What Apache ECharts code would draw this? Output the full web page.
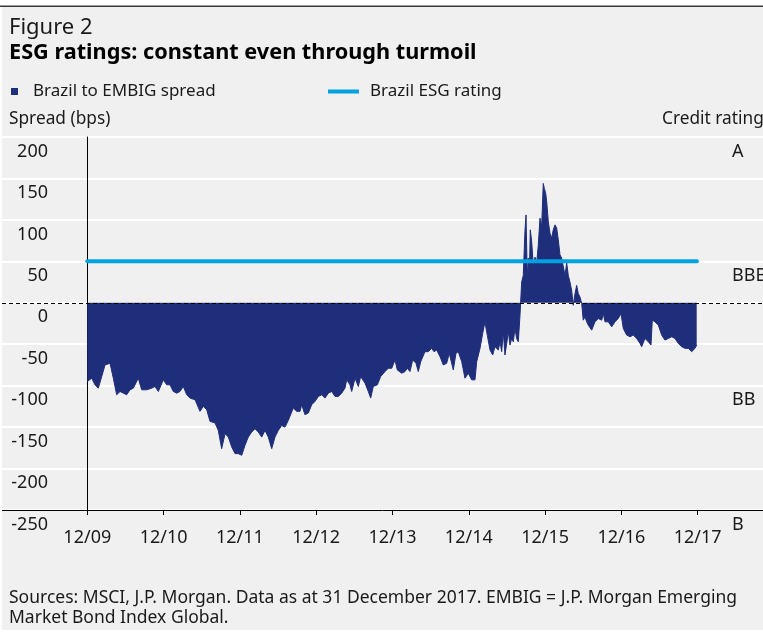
<!DOCTYPE html>
<html>
<head>
<meta charset="utf-8">
<script src="https://cdn.jsdelivr.net/npm/echarts@6/dist/echarts.min.js"></script>
<style>
  html, body { margin: 0; padding: 0; background: #ffffff; }
  #chart { width: 763px; height: 635px; }
</style>
</head>
<body>
<div id="chart"></div>
<script>
// ---- Data ----
// x position: years elapsed since the "12/09" tick (Dec 2009)
const yearsSinceDec09 = [
  0.000, 0.013, 0.058, 0.101, 0.144, 0.189, 0.232, 0.298, 0.341, 0.385, 0.429, 0.472, 0.516, 0.560, 0.603,
  0.668, 0.713, 0.778, 0.844, 0.887, 0.931, 0.996, 1.041, 1.084, 1.127, 1.172, 1.215, 1.258, 1.303, 1.346,
  1.412, 1.477, 1.520, 1.565, 1.608, 1.674, 1.717, 1.761, 1.805, 1.848, 1.893, 1.936, 1.979, 2.024, 2.067,
  2.110, 2.155, 2.198, 2.241, 2.286, 2.329, 2.372, 2.417, 2.460, 2.503, 2.548, 2.591, 2.634, 2.656, 2.700,
  2.744, 2.788, 2.810, 2.853, 2.897, 2.941, 2.984, 3.028, 3.072, 3.115, 3.159, 3.203, 3.247, 3.290, 3.334,
  3.377, 3.400, 3.443, 3.465, 3.509, 3.552, 3.583, 3.640, 3.683, 3.714, 3.748, 3.801, 3.845, 3.902, 3.945,
  3.990, 4.033, 4.063, 4.121, 4.164, 4.194, 4.229, 4.265, 4.308, 4.338, 4.370, 4.426, 4.469, 4.514, 4.544,
  4.579, 4.623, 4.666, 4.710, 4.744, 4.797, 4.832, 4.862, 4.907, 4.950, 4.993, 5.038, 5.081, 5.104, 5.147,
  5.182, 5.212, 5.242, 5.278, 5.313, 5.343, 5.366, 5.387, 5.409, 5.431, 5.452, 5.474, 5.497, 5.518, 5.540,
  5.562, 5.583, 5.605, 5.627, 5.649, 5.671, 5.693, 5.714, 5.736, 5.750, 5.767, 5.780, 5.793, 5.806, 5.824,
  5.845, 5.868, 5.890, 5.911, 5.933, 5.955, 5.976, 5.990, 6.008, 6.021, 6.042, 6.064, 6.086, 6.107, 6.130,
  6.152, 6.173, 6.195, 6.217, 6.238, 6.261, 6.283, 6.304, 6.326, 6.348, 6.369, 6.392, 6.414, 6.435, 6.457,
  6.480, 6.500, 6.523, 6.545, 6.566, 6.611, 6.632, 6.654, 6.697, 6.742, 6.763, 6.785, 6.828, 6.873, 6.916,
  6.959, 6.995, 7.025, 7.069, 7.113, 7.156, 7.200, 7.244, 7.266, 7.309, 7.353, 7.388, 7.405, 7.440, 7.484,
  7.528, 7.571, 7.615, 7.661, 7.702, 7.746, 7.790, 7.834, 7.877, 7.921, 7.943, 7.965, 7.987
];
// Brazil to EMBIG spread (bps)
const spreadBps = [
  -95, -93, -91, -99, -103, -89, -75, -73, -91, -111, -107, -109, -111, -105, -103,
  -91, -105, -105, -103, -101, -107, -93, -99, -99, -107, -109, -107, -101, -111, -115,
  -117, -131, -125, -129, -143, -145, -154, -176, -158, -162, -174, -182, -182, -184, -172,
  -162, -156, -152, -156, -162, -154, -162, -176, -162, -154, -148, -150, -142, -137, -127,
  -131, -131, -123, -135, -133, -123, -119, -113, -111, -115, -109, -107, -113, -113, -109,
  -103, -93, -99, -107, -91, -101, -89, -97, -107, -115, -101, -99, -89, -83, -79,
  -79, -69, -81, -85, -83, -79, -83, -69, -73, -83, -71, -59, -59, -55, -59,
  -57, -65, -75, -73, -61, -81, -61, -59, -71, -91, -85, -93, -93, -71, -55,
  -37, -23, -39, -57, -63, -53, -51, -57, -47, -59, -35, -63, -49, -35, -51,
  -43, -47, -31, -43, -47, -15, 25, 33, 86, 106, 29, 54, 33, 88, 74,
  45, 55, 48, 70, 102, 92, 144, 138, 132, 122, 98, 84, 78, 88, 94,
  90, 76, 58, 54, 52, 33, 48, 33, 25, 15, -3, 11, 21, 11, 7,
  -1, -21, -17, -23, -27, -33, -35, -23, -19, -21, -13, -23, -23, -29, -23,
  -19, -13, -31, -39, -41, -39, -43, -49, -53, -43, -47, -51, -21, -23, -27,
  -39, -45, -43, -41, -43, -49, -53, -55, -55, -59, -61, -55, -51
];
// Brazil ESG rating (constant, plotted on the spread scale)
const esgYears = [0, 7.99];
const esgRating = [50, 50];

// Axis tick labels
const xTickValues = [0, 1, 2, 3, 4, 5, 6, 7, 8];
const xTickLabels = ['12/09', '12/10', '12/11', '12/12', '12/13', '12/14', '12/15', '12/16', '12/17'];
const ratingTickValues = [200, 50, -100, -250];
const ratingTickLabels = ['A', 'BBB', 'BB', 'B'];

// ---- Style ----
const NAVY = '#1f2e7a';
const BLUE = '#00a3e0';
const BG = '#f0f0f0';
const TXT = '#1a1a1a';
const FONT = '"Noto Sans", "DejaVu Sans", sans-serif';

const spreadData = yearsSinceDec09.map((t, i) => [t, spreadBps[i]]);
const esgData = esgYears.map((t, i) => [t, esgRating[i]]);

const chart = echarts.init(document.getElementById('chart'), null, { renderer: 'canvas' });

chart.setOption({
  animation: false,
  backgroundColor: BG,
  textStyle: { fontFamily: FONT, color: TXT },
  graphic: [
    { type: 'rect', z: 100, silent: true, shape: { x: 0, y: 0, width: 763, height: 6 }, style: { fill: '#ffffff' } },
    { type: 'rect', z: 100, silent: true, shape: { x: 0, y: 0, width: 2, height: 635 }, style: { fill: '#ffffff' } },
    { type: 'rect', z: 100, silent: true, shape: { x: 0, y: 630, width: 763, height: 5 }, style: { fill: '#ffffff' } },
    { type: 'rect', z: 101, silent: true, shape: { x: 0, y: 5.5, width: 763, height: 1.6 }, style: { fill: '#3a3a3a' } }
  ],
  title: [
    { text: 'Figure 2', left: 9, top: 17, padding: 0,
      textStyle: { fontFamily: FONT, fontSize: 22, lineHeight: 22, fontWeight: 'normal', color: TXT } },
    { text: 'ESG ratings: constant even through turmoil', left: 9, top: 42, padding: 0,
      textStyle: { fontFamily: FONT, fontSize: 21.7, lineHeight: 21, fontWeight: 'bold', color: '#000' } },
    { text: 'Spread (bps)', left: 9, top: 111, padding: 0,
      textStyle: { fontFamily: FONT, fontSize: 17.3, lineHeight: 17, fontWeight: 'normal', color: TXT } },
    { text: 'Credit rating', left: 662, top: 111, padding: 0,
      textStyle: { fontFamily: FONT, fontSize: 17.3, lineHeight: 17, fontWeight: 'normal', color: TXT } },
    { text: 'Sources: MSCI, J.P. Morgan. Data as at 31 December 2017. EMBIG = J.P. Morgan Emerging\nMarket Bond Index Global.',
      left: 9, top: 588, padding: 0,
      textStyle: { fontFamily: FONT, fontSize: 17.5, lineHeight: 20, fontWeight: 'normal', color: TXT } }
  ],
  legend: [
    { data: [{ name: 'Brazil to EMBIG spread', icon: 'rect', itemStyle: { color: NAVY } }],
      left: 11, top: 83, padding: 0, itemWidth: 7, itemHeight: 7,
      textStyle: { fontFamily: FONT, fontSize: 17, lineHeight: 17, color: TXT, padding: [0, 0, 0, 10] } },
    { data: [{ name: 'Brazil ESG rating', icon: 'rect', itemStyle: { color: BLUE } }],
      left: 328, top: 83, padding: 0, itemWidth: 31, itemHeight: 4,
      textStyle: { fontFamily: FONT, fontSize: 17, lineHeight: 17, color: TXT, padding: [0, 0, 0, 6] } }
  ],
  grid: { left: 2, right: 0, top: 137, bottom: 125, containLabel: false, outerBoundsMode: 'none' },
  xAxis: {
    type: 'value', min: -1.118, max: 8.856,
    axisLine: { show: true, onZero: false, lineStyle: { color: '#000', width: 1 } },
    axisTick: { show: true, length: 5, customValues: xTickValues, lineStyle: { color: '#000', width: 1 } },
    axisLabel: { customValues: xTickValues, margin: 19, fontSize: 18, lineHeight: 18, color: TXT, fontFamily: FONT,
      formatter: v => xTickLabels[xTickValues.indexOf(Math.round(v))] || '' },
    splitLine: { show: false }
  },
  yAxis: [
    { type: 'value', min: -250, max: 200, interval: 50, position: 'left',
      axisLine: { show: true, onZero: true, lineStyle: { color: '#000', width: 1 } },
      axisTick: { show: false },
      splitLine: { show: true, lineStyle: { color: '#ffffff', width: 2 } },
      axisLabel: { inside: true, align: 'right', margin: 46, fontSize: 18, lineHeight: 29, color: TXT, fontFamily: FONT,
        verticalAlign: 'top', showMinLabel: true, showMaxLabel: true, hideOverlap: false } },
    { type: 'value', min: -250, max: 200, interval: 50, position: 'right',
      axisLine: { show: false, onZero: false }, axisTick: { show: false }, splitLine: { show: false },
      axisLabel: { inside: true, align: 'left', margin: 31, fontSize: 18, lineHeight: 29, color: TXT, fontFamily: FONT,
        verticalAlign: 'top', showMinLabel: true, showMaxLabel: true, hideOverlap: false,
        formatter: v => { const k = ratingTickValues.indexOf(v); return k >= 0 ? ratingTickLabels[k] : ''; } } }
  ],
  series: [
    { name: 'Brazil to EMBIG spread', type: 'line', data: spreadData, xAxisIndex: 0, yAxisIndex: 0,
      symbol: 'none', showSymbol: false, z: 2,
      itemStyle: { color: NAVY },
      lineStyle: { color: NAVY, width: 1 },
      areaStyle: { color: NAVY, opacity: 1 },
      markLine: { silent: true, symbol: 'none', label: { show: false }, z: 5,
        lineStyle: { color: '#000', type: [4, 3], width: 1 },
        data: [{ yAxis: 0 }] } },
    { name: 'Brazil ESG rating', type: 'line', data: esgData, xAxisIndex: 0, yAxisIndex: 0,
      symbol: 'none', showSymbol: false, z: 3,
      itemStyle: { color: BLUE },
      lineStyle: { color: BLUE, width: 4, cap: 'round' } }
  ]
});
</script>
</body>
</html>
